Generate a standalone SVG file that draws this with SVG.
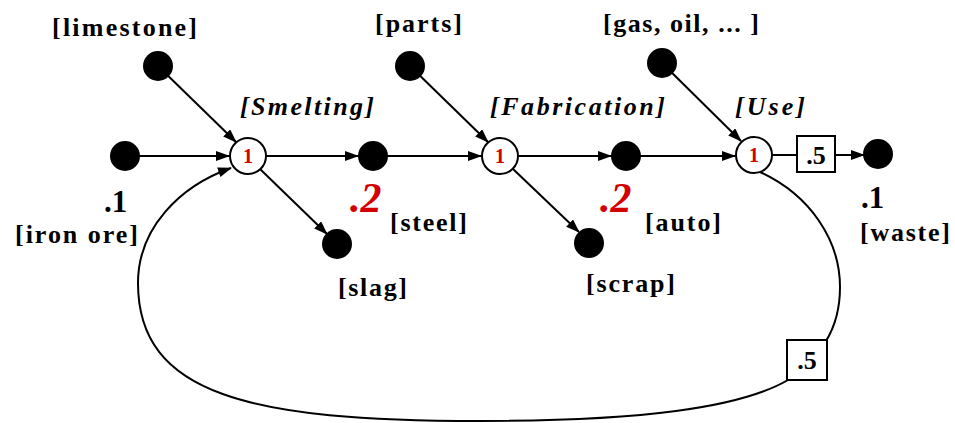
<svg xmlns="http://www.w3.org/2000/svg" width="955" height="423" viewBox="0 0 955 423">
  <style>
    .lbl { font-family: "Liberation Serif", "Times New Roman", serif; font-weight: bold; font-size: 26px; fill: #000; }
    .proc { font-family: "Liberation Serif", "Times New Roman", serif; font-weight: bold; font-style: italic; font-size: 26px; fill: #000; }
    .num { font-family: "Liberation Serif", "Times New Roman", serif; font-weight: bold; font-size: 31px; fill: #000; }
    .red { font-family: "Liberation Serif", "Times New Roman", serif; font-weight: bold; font-style: italic; font-size: 42px; fill: #d40000; }
    .one { font-family: "Liberation Serif", "Times New Roman", serif; font-weight: bold; font-size: 20px; fill: #d40000; text-anchor: middle; }
    .box { font-family: "Liberation Serif", "Times New Roman", serif; font-weight: bold; font-size: 26px; fill: #000; text-anchor: middle; }
    .dot { fill: #000; }
    .tr { fill: #fff; stroke: #000; stroke-width: 2; }
    .edge { fill: none; stroke: #000; stroke-width: 2; }
    .rate { fill: #fff; stroke: #000; stroke-width: 2; }
  </style>
  <defs>
    <marker id="arrow" markerWidth="14" markerHeight="10" refX="13" refY="5" orient="auto" markerUnits="userSpaceOnUse">
      <path d="M0,0 L14,5 L0,10 Z" fill="#000"/>
    </marker>
  </defs>

  <!-- connectors -->
  <g id="connectors">
    <line class="edge" x1="158" y1="66" x2="236" y2="142" marker-end="url(#arrow)"/>
    <line class="edge" x1="125" y1="156" x2="229" y2="156" marker-end="url(#arrow)"/>
    <line class="edge" x1="266" y1="156" x2="358" y2="156" marker-end="url(#arrow)"/>
    <line class="edge" x1="260" y1="169" x2="327" y2="234" marker-end="url(#arrow)"/>
    <line class="edge" x1="373" y1="156" x2="481" y2="156" marker-end="url(#arrow)"/>
    <line class="edge" x1="410" y1="66" x2="488" y2="142" marker-end="url(#arrow)"/>
    <line class="edge" x1="519" y1="156" x2="611" y2="156" marker-end="url(#arrow)"/>
    <line class="edge" x1="513" y1="169" x2="579" y2="232" marker-end="url(#arrow)"/>
    <line class="edge" x1="626" y1="156" x2="735" y2="156" marker-end="url(#arrow)"/>
    <line class="edge" x1="662" y1="63" x2="741" y2="141" marker-end="url(#arrow)"/>
    <line class="edge" x1="772" y1="155" x2="797" y2="155"/>
    <line class="edge" x1="835" y1="155" x2="864" y2="155" marker-end="url(#arrow)"/>
    <!-- recycling loop from Use back to Smelting -->
    <path class="edge" d="M760,172 C810,195 840,240 840,287 C840,310 834,328 826,341"/>
    <path class="edge" d="M788,380 C740,408 640,421 480,421 C250,421 138,395 138,283 C138,228 180,186 231,168" marker-end="url(#arrow)"/>
  </g>

  <!-- loop rate box -->
  <g id="rate-loop">
    <rect class="rate" x="787" y="340" width="40" height="40"/>
    <text class="box" x="807" y="369">.5</text>
  </g>

  <!-- input / output places -->
  <g id="limestone">
    <circle class="dot" cx="158" cy="66" r="15"/>
    <text class="lbl" x="52" y="36" textLength="145" lengthAdjust="spacing">[limestone]</text>
  </g>
  <g id="iron-ore">
    <circle class="dot" cx="125" cy="156" r="15"/>
    <text class="num" x="104" y="212">.1</text>
    <text class="lbl" x="15" y="243" textLength="123" lengthAdjust="spacing">[iron ore]</text>
  </g>
  <g id="steel">
    <circle class="dot" cx="373" cy="156" r="15"/>
    <text class="red" x="350" y="212">.2</text>
    <text class="lbl" x="390" y="231" textLength="77" lengthAdjust="spacing">[steel]</text>
  </g>
  <g id="slag">
    <circle class="dot" cx="337" cy="244" r="15"/>
    <text class="lbl" x="338" y="296" textLength="69" lengthAdjust="spacing">[slag]</text>
  </g>
  <g id="parts">
    <circle class="dot" cx="410" cy="66" r="15"/>
    <text class="lbl" x="375" y="32" textLength="87" lengthAdjust="spacing">[parts]</text>
  </g>
  <g id="auto">
    <circle class="dot" cx="626" cy="156" r="15"/>
    <text class="red" x="600" y="212">.2</text>
    <text class="lbl" x="645" y="231" textLength="76" lengthAdjust="spacing">[auto]</text>
  </g>
  <g id="scrap">
    <circle class="dot" cx="589" cy="243" r="15"/>
    <text class="lbl" x="586" y="292" textLength="89" lengthAdjust="spacing">[scrap]</text>
  </g>
  <g id="gas-oil">
    <circle class="dot" cx="662" cy="63" r="15"/>
    <text class="lbl" x="603" y="32" textLength="156" lengthAdjust="spacing">[gas, oil, ... ]</text>
  </g>
  <g id="waste">
    <circle class="dot" cx="878" cy="154" r="15"/>
    <text class="num" x="861" y="208">.1</text>
    <text class="lbl" x="860" y="241" textLength="90" lengthAdjust="spacing">[waste]</text>
  </g>

  <!-- transitions -->
  <g id="smelting">
    <circle class="tr" cx="248" cy="156" r="18"/>
    <text class="one" x="248" y="163">1</text>
    <text class="proc" x="240" y="115" textLength="134" lengthAdjust="spacing">[Smelting]</text>
  </g>
  <g id="fabrication">
    <circle class="tr" cx="500" cy="156" r="18"/>
    <text class="one" x="500" y="163">1</text>
    <text class="proc" x="490" y="115" textLength="175" lengthAdjust="spacing">[Fabrication]</text>
  </g>
  <g id="use">
    <circle class="tr" cx="754" cy="155" r="18"/>
    <text class="one" x="754" y="162">1</text>
    <text class="proc" x="735" y="115" textLength="70" lengthAdjust="spacing">[Use]</text>
  </g>
  <g id="rate-waste">
    <rect class="rate" x="797" y="136" width="38" height="36"/>
    <text class="box" x="816" y="164">.5</text>
  </g>
</svg>
